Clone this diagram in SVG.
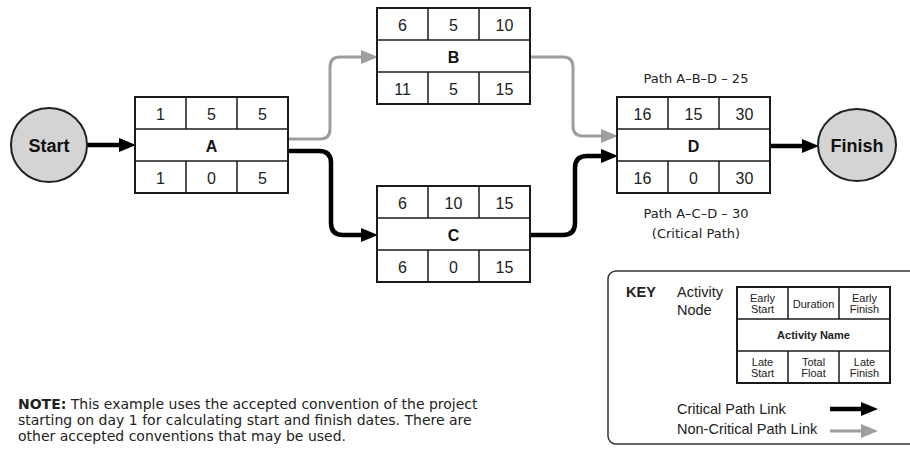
<svg xmlns="http://www.w3.org/2000/svg" width="910" height="455" viewBox="0 0 910 455">
  <style>
    .cell { fill: #fff; stroke: #1a1a1a; stroke-width: 2; }
    .div { stroke: #1a1a1a; stroke-width: 1.5; }
    .num { font-family: "Liberation Sans", Arial, sans-serif; font-size: 16px; fill: #222; text-anchor: middle; }
    .name { font-family: "Liberation Sans", Arial, sans-serif; font-size: 16px; font-weight: bold; fill: #111; text-anchor: middle; }
    .term { fill: #d4d4d4; stroke: #222; stroke-width: 2; }
    .termtxt { font-family: "Liberation Sans", Arial, sans-serif; font-size: 18px; font-weight: bold; fill: #111; text-anchor: middle; }
    .crit { fill: none; stroke: #000; stroke-width: 4.5; }
    .noncrit { fill: none; stroke: #9e9e9e; stroke-width: 3; }
    .lbl { font-family: "DejaVu Sans", "Liberation Sans", sans-serif; font-size: 13px; fill: #222; text-anchor: middle; }
    .key { font-family: "Liberation Sans", Arial, sans-serif; font-size: 14.5px; fill: #222; }
    .small { font-family: "Liberation Sans", Arial, sans-serif; font-size: 11px; fill: #222; text-anchor: middle; }
    .note { font-family: "DejaVu Sans", "Liberation Sans", sans-serif; font-size: 14px; fill: #222; }
  </style>
  <defs>
    <marker id="arrowBlack" markerUnits="userSpaceOnUse" markerWidth="17" markerHeight="14" refX="6" refY="7" orient="auto">
      <path d="M0,0 L17,7 L0,14 z" fill="#000"/>
    </marker>
    <marker id="arrowGray" markerUnits="userSpaceOnUse" markerWidth="17" markerHeight="14" refX="6" refY="7" orient="auto">
      <path d="M0,0 L17,7 L0,14 z" fill="#9e9e9e"/>
    </marker>
    <!-- activity node frame: three rows, outer columns split top and bottom -->
    <g id="frame">
      <rect class="cell" x="0" y="0" width="153" height="96"/>
      <line class="div" x1="0" y1="32" x2="153" y2="32"/>
      <line class="div" x1="0" y1="64" x2="153" y2="64"/>
      <line class="div" x1="51" y1="0" x2="51" y2="32"/>
      <line class="div" x1="102" y1="0" x2="102" y2="32"/>
      <line class="div" x1="51" y1="64" x2="51" y2="96"/>
      <line class="div" x1="102" y1="64" x2="102" y2="96"/>
    </g>
  </defs>

  <!-- links -->
  <g id="connectors">
    <path class="crit" d="M87,145 H125" marker-end="url(#arrowBlack)"/>
    <path class="noncrit" d="M288,139 H320 Q330,139 330,129 V67 Q330,57 340,57 H367" marker-end="url(#arrowGray)"/>
    <path class="crit" d="M288,151 H319 Q331,151 331,163 V223 Q331,235 343,235 H367" marker-end="url(#arrowBlack)"/>
    <path class="noncrit" d="M529,57 H563 Q573,57 573,67 V126 Q573,136 583,136 H607" marker-end="url(#arrowGray)"/>
    <path class="crit" d="M529,235 H563 Q575,235 575,223 V168 Q575,156 587,156 H607" marker-end="url(#arrowBlack)"/>
    <path class="crit" d="M771,146 H808" marker-end="url(#arrowBlack)"/>
  </g>

  <g id="start">
    <ellipse class="term" cx="49" cy="145" rx="38" ry="37"/>
    <text class="termtxt" x="49" y="151.5">Start</text>
  </g>

  <g id="finish">
    <ellipse class="term" cx="857" cy="145" rx="39" ry="36"/>
    <text class="termtxt" x="857" y="151.5">Finish</text>
  </g>

  <g id="nodeA" transform="translate(135,97)">
    <use href="#frame"/>
    <text class="num" x="25.5" y="23">1</text>
    <text class="num" x="76.5" y="23">5</text>
    <text class="num" x="127.5" y="23">5</text>
    <text class="name" x="76.5" y="54.5">A</text>
    <text class="num" x="25.5" y="87">1</text>
    <text class="num" x="76.5" y="87">0</text>
    <text class="num" x="127.5" y="87">5</text>
  </g>

  <g id="nodeB" transform="translate(377,8)">
    <use href="#frame"/>
    <text class="num" x="25.5" y="23">6</text>
    <text class="num" x="76.5" y="23">5</text>
    <text class="num" x="127.5" y="23">10</text>
    <text class="name" x="76.5" y="54.5">B</text>
    <text class="num" x="25.5" y="87">11</text>
    <text class="num" x="76.5" y="87">5</text>
    <text class="num" x="127.5" y="87">15</text>
  </g>

  <g id="nodeC" transform="translate(377,186)">
    <use href="#frame"/>
    <text class="num" x="25.5" y="23">6</text>
    <text class="num" x="76.5" y="23">10</text>
    <text class="num" x="127.5" y="23">15</text>
    <text class="name" x="76.5" y="54.5">C</text>
    <text class="num" x="25.5" y="87">6</text>
    <text class="num" x="76.5" y="87">0</text>
    <text class="num" x="127.5" y="87">15</text>
  </g>

  <g id="nodeD" transform="translate(617,97)">
    <use href="#frame"/>
    <text class="num" x="25.5" y="23">16</text>
    <text class="num" x="76.5" y="23">15</text>
    <text class="num" x="127.5" y="23">30</text>
    <text class="name" x="76.5" y="54.5">D</text>
    <text class="num" x="25.5" y="87">16</text>
    <text class="num" x="76.5" y="87">0</text>
    <text class="num" x="127.5" y="87">30</text>
  </g>

  <g id="pathLabels">
    <text class="lbl" x="696" y="83">Path A–B–D – 25</text>
    <text class="lbl" x="696" y="218">Path A–C–D – 30</text>
    <text class="lbl" x="696" y="238">(Critical Path)</text>
  </g>

  <g id="legend">
    <rect x="608" y="271" width="312" height="173" rx="8" ry="8" fill="#fff" stroke="#333" stroke-width="1.5"/>
    <text class="key" x="626" y="297" font-weight="bold">KEY</text>
    <text class="key" x="677" y="297">Activity</text>
    <text class="key" x="677" y="315">Node</text>
    <g transform="translate(737,287)">
      <use href="#frame"/>
      <text class="small" x="25.5" y="15">Early</text>
      <text class="small" x="25.5" y="26">Start</text>
      <text class="small" x="76.5" y="21">Duration</text>
      <text class="small" x="127.5" y="15">Early</text>
      <text class="small" x="127.5" y="26">Finish</text>
      <text class="small" x="76.5" y="52" font-weight="bold">Activity Name</text>
      <text class="small" x="25.5" y="79">Late</text>
      <text class="small" x="25.5" y="90">Start</text>
      <text class="small" x="76.5" y="79">Total</text>
      <text class="small" x="76.5" y="90">Float</text>
      <text class="small" x="127.5" y="79">Late</text>
      <text class="small" x="127.5" y="90">Finish</text>
    </g>
    <text class="key" x="677" y="414">Critical Path Link</text>
    <text class="key" x="677" y="434">Non-Critical Path Link</text>
    <path class="crit" d="M830,409 H867" marker-end="url(#arrowBlack)"/>
    <path class="noncrit" d="M830,431 H867" marker-end="url(#arrowGray)"/>
  </g>

  <g id="note">
    <text class="note" x="18" y="409"><tspan font-weight="bold">NOTE:</tspan> This example uses the accepted convention of the project</text>
    <text class="note" x="18" y="425">starting on day 1 for calculating start and finish dates. There are</text>
    <text class="note" x="18" y="441">other accepted conventions that may be used.</text>
  </g>
</svg>
